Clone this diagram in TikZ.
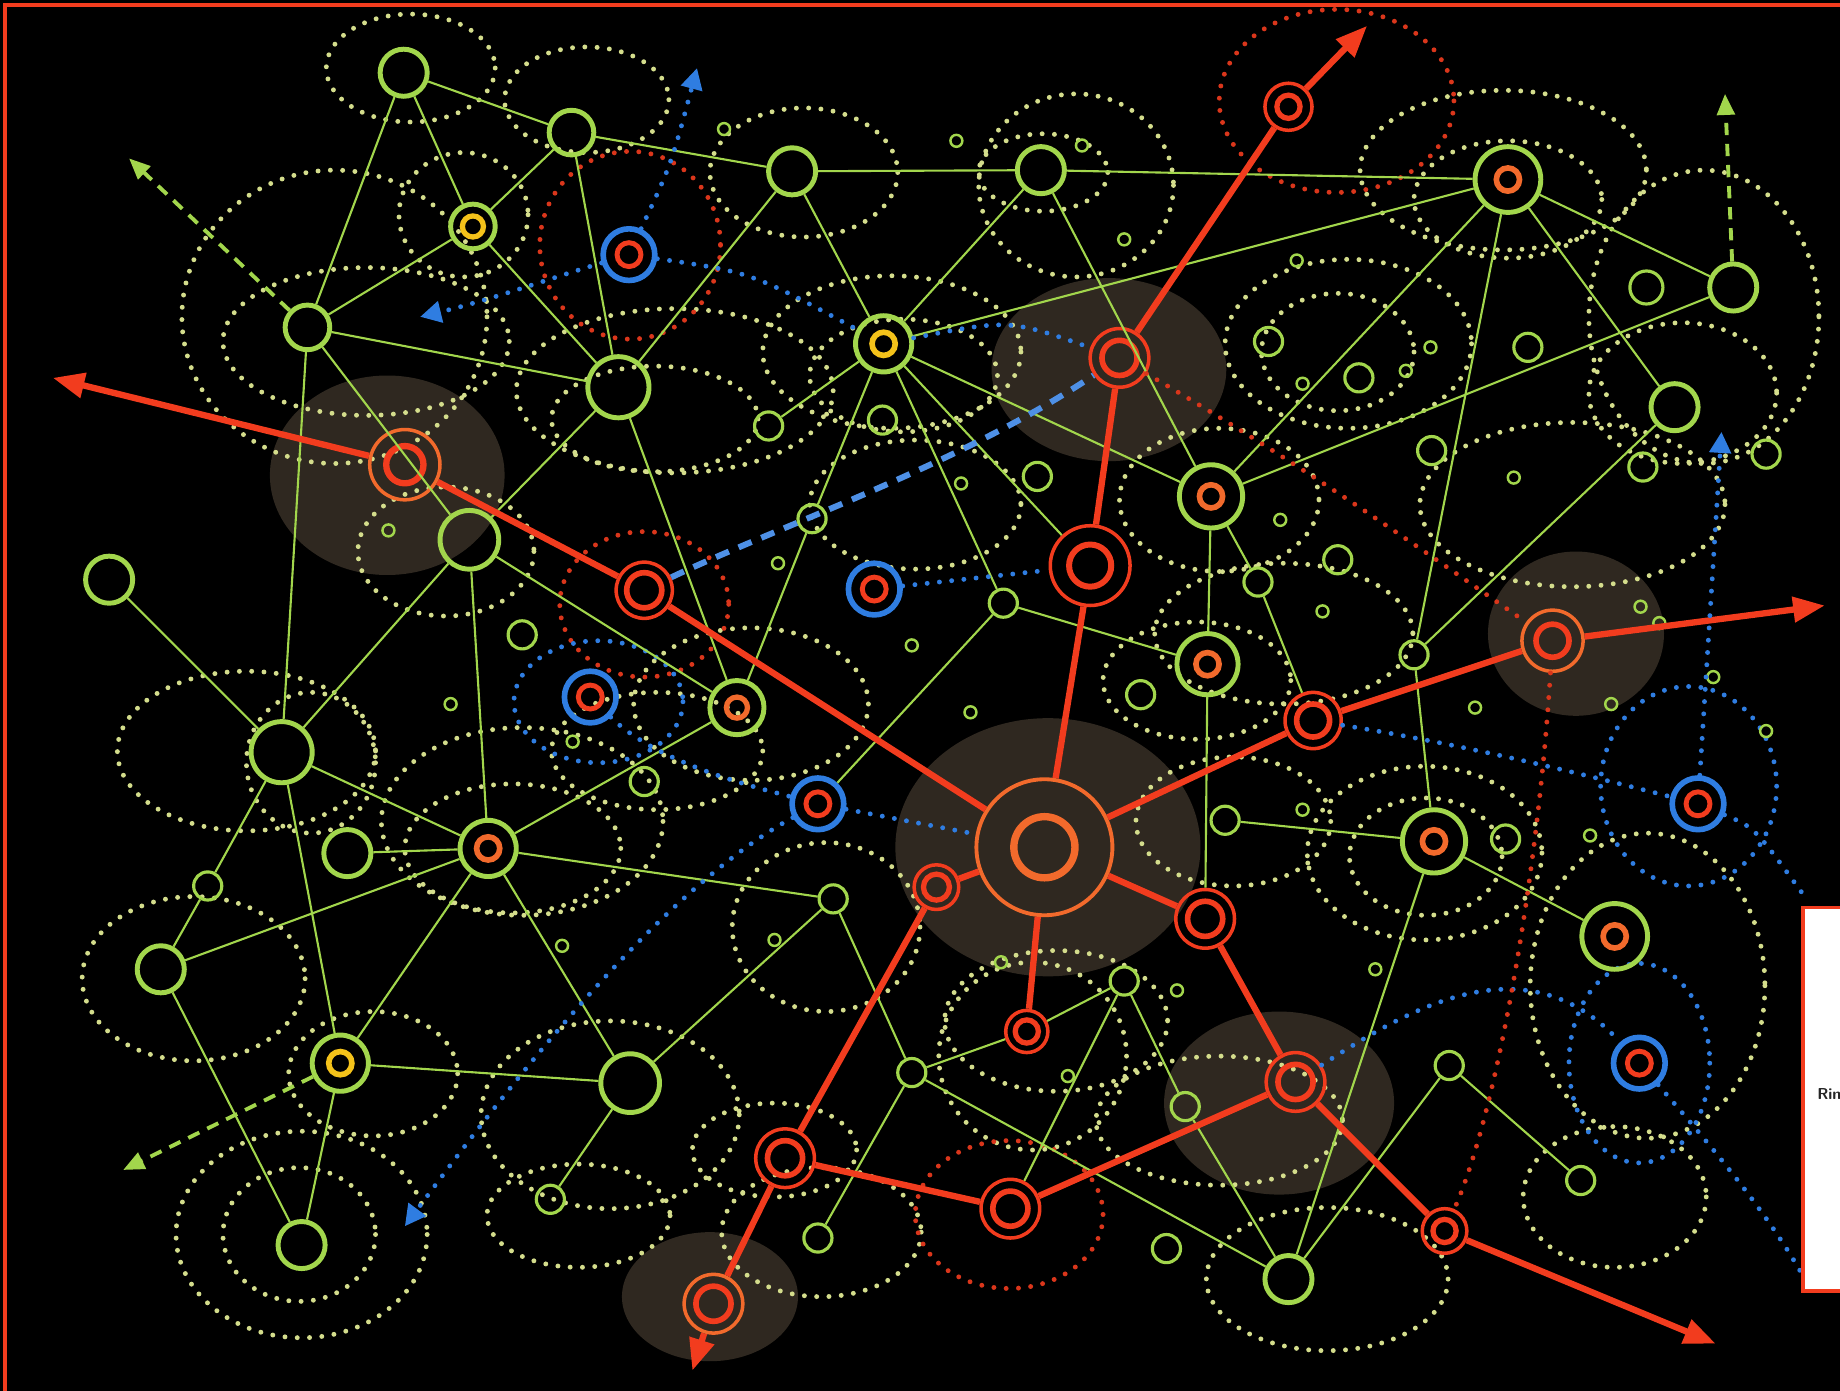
\documentclass[tikz,border=0pt]{standalone}
\usepackage{xcolor}
\usetikzlibrary{arrows.meta,positioning}
\definecolor{Lime}{HTML}{A2D64C}
\definecolor{Speck}{HTML}{D4DD8C}
\definecolor{Flame}{HTML}{F23C1E}
\definecolor{Ember}{HTML}{F26A2C}
\definecolor{Azure}{HTML}{2F7DE1}
\definecolor{Amber}{HTML}{F4C21A}
\definecolor{Haze}{HTML}{2F2820}

\begin{document}
\begin{tikzpicture}[x=0.11735mm, y=-0.11735mm,
  gnode/.style={circle, draw=Lime, line width=1.4pt, inner sep=0pt, minimum size=#1},
  gnode/.default=13.4pt,
  gsmall/.style={circle, draw=Lime, line width=0.9pt, inner sep=0pt, minimum size=#1},
  gsmall/.default=8pt,
  gtiny/.style={circle, draw=Lime, line width=0.7pt, inner sep=0pt, minimum size=3.4pt},
  rnode/.style={circle, draw=Flame, line width=1pt, inner sep=0pt, minimum size=#1},
  bnode/.style={circle, draw=Azure, line width=1.6pt, inner sep=0pt, minimum size=14.7pt, core={Flame}{3.4pt}{1.4pt}},
  core/.style n args={3}{path picture={\draw[#1, line width=#3] (path picture bounding box.center) circle[radius=#2];}},
  link/.style={draw=Lime, line width=0.6pt},
  trunk/.style={draw=Flame, line width=1.8pt},
  spark/.style={-{Triangle[length=9pt, width=7pt]}},
  speckle/.style={draw=Speck, line width=1.4pt, line cap=round, dash pattern=on 0pt off 3.5pt},
  rdots/.style={speckle, draw=Flame!90!black},
  bdots/.style={speckle, draw=Azure},
  bdash/.style={draw=Azure!85!white, line width=1.7pt, dash pattern=on 4pt off 3pt},
  gdash/.style={draw=Lime, line width=1.1pt, dash pattern=on 3.5pt off 2.5pt, -{Triangle[length=6pt, width=5pt]}},
  btip/.style={-{Triangle[length=6pt, width=6pt]}},
  haze/.style={fill=Haze}
]
  \useasboundingbox (0,0) rectangle (1568,1185);
  \fill[black] (0,0) rectangle (1568,1185);
  \draw[Flame, line width=1.2pt] (4,4) rectangle (1600,1220);

  \foreach \cx/\cy/\rx/\ry in {330/405/100/85, 945/315/100/78, 893/722/130/110,
      1343/540/75/70, 1090/940/98/78, 605/1105/75/55}
    \fill[haze] (\cx,\cy) ellipse[x radius=\rx, y radius=\ry];

  \foreach \cx/\cy/\rx/\ry in {350/58/72/46, 500/85/70/45, 285/270/130/125, 312/291/122/63,
      395/183/55/53, 685/147/80/55, 575/333/135/70, 558/357/88/45, 760/300/110/65,
      770/320/80/48, 917/158/83/78, 889/147/55/33, 1281/145/122/68, 1285/170/80/50,
      1452/270/98/125, 1434/335/80/60, 1149/293/105/72, 1140/300/65/50, 1039/426/85/61,
      1094/540/110/60, 1340/430/130/70, 1404/840/100/130, 1376/1020/78/60,
      1131/1090/103/61, 1039/955/105/55, 1214/727/100/74, 1215/730/65/50,
      1051/700/83/55, 900/870/95/60, 880/900/80/80, 520/950/110/80, 493/1036/78/44,
      257/1052/107/88, 255/1052/65/57, 165/834/95/70, 210/640/110/68, 265/650/55/60,
      437/723/92/55, 445/700/120/80, 704/790/80/72, 318/915/72/53, 640/600/100/65,
      560/640/90/50, 380/470/75/55, 700/1050/85/55, 660/980/70/40, 1020/580/80/50,
      780/430/90/55}
    \draw[speckle] (\cx,\cy) ellipse[x radius=\rx, y radius=\ry];
  \foreach \cx/\cy/\rx/\ry in {537/209/77/80, 1139/86/100/78, 549/515/72/62, 860/1035/80/63}
    \draw[rdots] (\cx,\cy) ellipse[x radius=\rx, y radius=\ry];
  \foreach \cx/\cy/\rx/\ry in {510/598/72/52, 1439/670/75/85, 1397/906/60/85}
    \draw[bdots] (\cx,\cy) ellipse[x radius=\rx, y radius=\ry];

  \node[gnode] (g1) at (344,62) {};
  \node[gnode=12.7pt] (g2) at (487,113) {};
  \node[gnode] (g3) at (675,146) {};
  \node[gnode] (g4) at (887,145) {};
  \node[gnode=18.7pt, core={Ember}{3.3pt}{1.6pt}] (g5) at (1285,153) {};
  \node[gnode] (g6) at (1477,245) {};
  \node[gnode=12.7pt] (g7) at (262,279) {};
  \node[gnode=17.4pt] (g8) at (527,330) {};
  \node[gnode=16pt, core={Amber}{3.3pt}{1.6pt}] (g9) at (753,293) {};
  \node[gnode=12.7pt, core={Amber}{3pt}{1.5pt}] (g10) at (403,193) {};
  \node[gnode=18pt, core={Ember}{3.3pt}{1.6pt}] (g11) at (1032,423) {};
  \node[gnode] (g12) at (1427,347) {};
  \node[gnode=16.7pt] (g13) at (400,460) {};
  \node[gnode] (g14) at (93,494) {};
  \node[gnode=17.4pt] (g15) at (240,641) {};
  \node[gnode=15.4pt, core={Ember}{3pt}{1.5pt}] (g16) at (628,603) {};
  \node[gnode=17.4pt, core={Ember}{3.3pt}{1.6pt}] (g17) at (1029,566) {};
  \node[gnode=16pt, core={Ember}{3.3pt}{1.6pt}] (g18) at (416,723) {};
  \node[gnode] (g19) at (296,727) {};
  \node[gnode] (g20) at (137,826) {};
  \node[gnode=16pt, core={Amber}{3.3pt}{1.6pt}] (g21) at (290,906) {};
  \node[gnode=16.7pt] (g22) at (537,923) {};
  \node[gnode] (g23) at (257,1061) {};
  \node[gnode=18pt, core={Ember}{3.3pt}{1.6pt}] (g24) at (1222,717) {};
  \node[gnode=18.7pt, core={Ember}{3.3pt}{1.6pt}] (g25) at (1376,798) {};
  \node[gnode] (g26) at (1098,1090) {};

  \node[gsmall] (s1) at (655,363) {};
  \node[gsmall] (s2) at (692,442) {};
  \node[gsmall] (s3) at (855,514) {};
  \node[gsmall] (s4) at (1072,496) {};
  \node[gsmall] (s5) at (1205,558) {};
  \node[gsmall] (s6) at (1044,699) {};
  \node[gsmall] (s7) at (710,766) {};
  \node[gsmall] (s8) at (777,914) {};
  \node[gsmall] (s9) at (958,836) {};
  \node[gsmall] (s10) at (1010,943) {};
  \node[gsmall] (s11) at (1235,908) {};
  \node[gsmall] (s12) at (1347,1006) {};
  \node[gsmall] (s13) at (697,1055) {};
  \node[gsmall] (s14) at (469,1022) {};
  \node[gsmall] (s15) at (177,755) {};
  \node[gsmall=9.4pt] (s16) at (1403,245) {};
  \foreach \x/\y in {752/358, 884/406, 445/541, 549/666, 972/592, 1283/715, 1140/477,
      1220/384, 1302/296, 1081/291, 1158/322, 1400/398, 1505/387, 994/1064}
    \node[gsmall] (spot-\x) at (\x,\y) {};
  \foreach \x/\y in {617/110, 815/120, 922/124, 958/204, 1105/222, 1219/296, 1198/316,
      1110/327, 1290/407, 1091/443, 1127/521, 1257/603, 1373/600, 1398/517, 1460/577,
      1505/623, 1110/690, 1355/712, 1172/826, 1003/844, 853/820, 910/917, 660/801,
      479/806, 384/600, 331/452, 488/632, 819/412, 827/607, 777/550, 663/480, 1414/531}
    \node[gtiny] (mote-\x) at (\x,\y) {};

  \node[rnode=13.4pt, core={Flame}{3.3pt}{1.5pt}] (r1) at (1098,91) {};
  \node[rnode=16.7pt, core={Flame}{5pt}{1.6pt}] (r2) at (954,305) {};
  \node[rnode=20pt, draw=Ember, core={Flame}{5.3pt}{1.8pt}] (r3) at (345,396) {};
  \node[rnode=16pt, core={Flame}{5pt}{1.6pt}] (r4) at (549,503) {};
  \node[rnode=22.7pt, core={Flame}{6pt}{1.7pt}] (r5) at (929,482) {};
  \node[rnode=16pt, core={Flame}{4.7pt}{1.6pt}] (r6) at (1119,614) {};
  \node[rnode=17.4pt, draw=Ember, core={Flame}{4.7pt}{1.6pt}] (r7) at (1323,546) {};
  \node[circle, draw=Ember, line width=1.1pt, inner sep=0pt, minimum size=38.7pt,
    core={Ember}{8.7pt}{2.1pt}] (hub) at (890,722) {};
  \node[rnode=12.7pt, core={Flame}{3.7pt}{1.5pt}] (r9) at (798,756) {};
  \node[rnode=16.7pt, core={Flame}{5pt}{1.6pt}] (r10) at (1027,783) {};
  \node[rnode=12pt, core={Flame}{3.3pt}{1.5pt}] (r11) at (875,879) {};
  \node[rnode=16.7pt, core={Flame}{5pt}{1.6pt}] (r12) at (1104,922) {};
  \node[rnode=16.7pt, core={Flame}{5pt}{1.6pt}] (r13) at (669,987) {};
  \node[rnode=16.7pt, core={Flame}{5pt}{1.6pt}] (r14) at (861,1030) {};
  \node[rnode=12.7pt, core={Flame}{3.3pt}{1.5pt}] (r15) at (1231,1049) {};
  \node[rnode=16.7pt, draw=Ember, core={Flame}{5pt}{1.6pt}] (r16) at (608,1111) {};

  \node[bnode] (b1) at (536,217) {};
  \node[bnode] (b2) at (745,502) {};
  \node[bnode] (b3) at (503,594) {};
  \node[bnode] (b4) at (697,685) {};
  \node[bnode] (b5) at (1447,685) {};
  \node[bnode] (b6) at (1397,906) {};

  \coordinate (west) at (45,322);
  \coordinate (north) at (1165,22);
  \coordinate (east) at (1555,516);
  \coordinate (south) at (590,1168);
  \coordinate (southeast) at (1462,1145);
  \coordinate (gw) at (110,135);
  \coordinate (gsw) at (105,997);
  \coordinate (gn) at (1470,80);
  \coordinate (bn) at (594,58);
  \coordinate (bw) at (358,270);
  \coordinate (bsw) at (345,1045);
  \coordinate (bne) at (1467,368);
  \coordinate (bse) at (1535,760);
  \coordinate (bfar) at (1538,1090);

  \draw[link] (g1) -- (g2) (g1) -- (g10) (g1) -- (g7) (g2) -- (g3) (g2) -- (g10)
    (g2) -- (g8) (g3) -- (g4) (g3) -- (g8) (g3) -- (g9) (g4) -- (g5) (g4) -- (g9)
    (g4) -- (g11) (g5) -- (g9) (g5) -- (g6) (g5) -- (g12) (g5) -- (g11) (g5) -- (s5)
    (g6) -- (g11) (g12) -- (s5) (s5) -- (g24) (g24) -- (g26) (g24) -- (g25) (s6) -- (g24)
    (g10) -- (g7) (g10) -- (g8) (g7) -- (g8) (g7) -- (g13) (g7) -- (g15) (g8) -- (g13)
    (g8) -- (g16) (g9) -- (s1) (g9) -- (s2) (s2) -- (g16) (g9) -- (g11) (g9) -- (r5)
    (g9) -- (s3) (s3) -- (g17) (s3) -- (b4) (g11) -- (g17) (g11) -- (s4) (s4) -- (r6)
    (g17) -- (r10) (g13) -- (g18) (g13) -- (g15) (g13) -- (g16) (g14) -- (g15)
    (g15) -- (s15) (s15) -- (g20) (g15) -- (g21) (g15) -- (g18) (g20) -- (g23)
    (g20) -- (g18) (g21) -- (g23) (g21) -- (g18) (g21) -- (g22) (g18) -- (g19)
    (g18) -- (g22) (g18) -- (g16) (g18) -- (s7) (g22) -- (s7) (g22) -- (s14)
    (s7) -- (s8) (s8) -- (s13) (s8) -- (r11) (r11) -- (s9) (s9) -- (r14) (s9) -- (s10)
    (s10) -- (g26) (s8) -- (g26) (g26) -- (s11) (s11) -- (s12);

  \draw[trunk] (r3) -- (r4) (r4) -- (hub) (hub) -- (r5) (r5) -- (r2) (r2) -- (r1)
    (hub) -- (r6) (r6) -- (r7) (hub) -- (r9) (r9) -- (r13) (r13) -- (r16) (hub) -- (r11)
    (hub) -- (r10) (r10) -- (r12) (r12) -- (r15) (r13) -- (r14) (r14) -- (r12);
  \draw[trunk, spark] (r3) -- (west);
  \draw[trunk, spark] (r1) -- (north);
  \draw[trunk, spark] (r7) -- (east);
  \draw[trunk, spark] (r16) -- (south);
  \draw[trunk, spark] (r15) -- (southeast);

  \draw[gdash] (g7) -- (gw);
  \draw[gdash] (g21) -- (gsw);
  \draw[gdash] (g6) -- (gn);

  \draw[bdots, btip] (b1) .. controls (572,140) .. (bn);
  \draw[bdots, btip] (b1) .. controls (460,240) and (420,255) .. (bw);
  \draw[bdots] (b1) .. controls (640,232) .. (g9);
  \draw[bdots] (g9) .. controls (860,272) .. (r2);
  \draw[bdash] (r4) .. controls (660,450) and (820,395) .. (r2);
  \draw[bdots] (b2) -- (r5);
  \draw[bdots] (b4) -- (hub);
  \draw[bdots] (b3) .. controls (560,650) and (640,670) .. (b4);
  \draw[bdots, btip] (b4) .. controls (560,760) and (430,930) .. (bsw);
  \draw[bdots] (r6) .. controls (1250,635) and (1350,660) .. (b5);
  \draw[bdots] (b5) .. controls (1495,705) .. (bse);
  \draw[bdots, btip] (b5) -- (bne);
  \draw[bdots] (r12) .. controls (1200,860) and (1300,800) .. (b6);
  \draw[bdots] (b6) .. controls (1470,990) and (1510,1040) .. (bfar);

  \draw[rdots] (r2) .. controls (1100,390) and (1200,460) .. (r7);
  \draw[rdots] (r7) .. controls (1310,750) and (1275,950) .. (r15);

  \node[draw=Flame, fill=white, line width=1pt, anchor=north west, inner sep=0pt,
    minimum width=24pt, minimum height=109pt] (legend) at (1535,772) {};
  \node[anchor=west, inner sep=0pt, text=black!85,
    font={\sffamily\bfseries\fontsize{4.5}{5}\selectfont}] (legendtext) at (1548,932) {Rin};
\end{tikzpicture}
\end{document}
